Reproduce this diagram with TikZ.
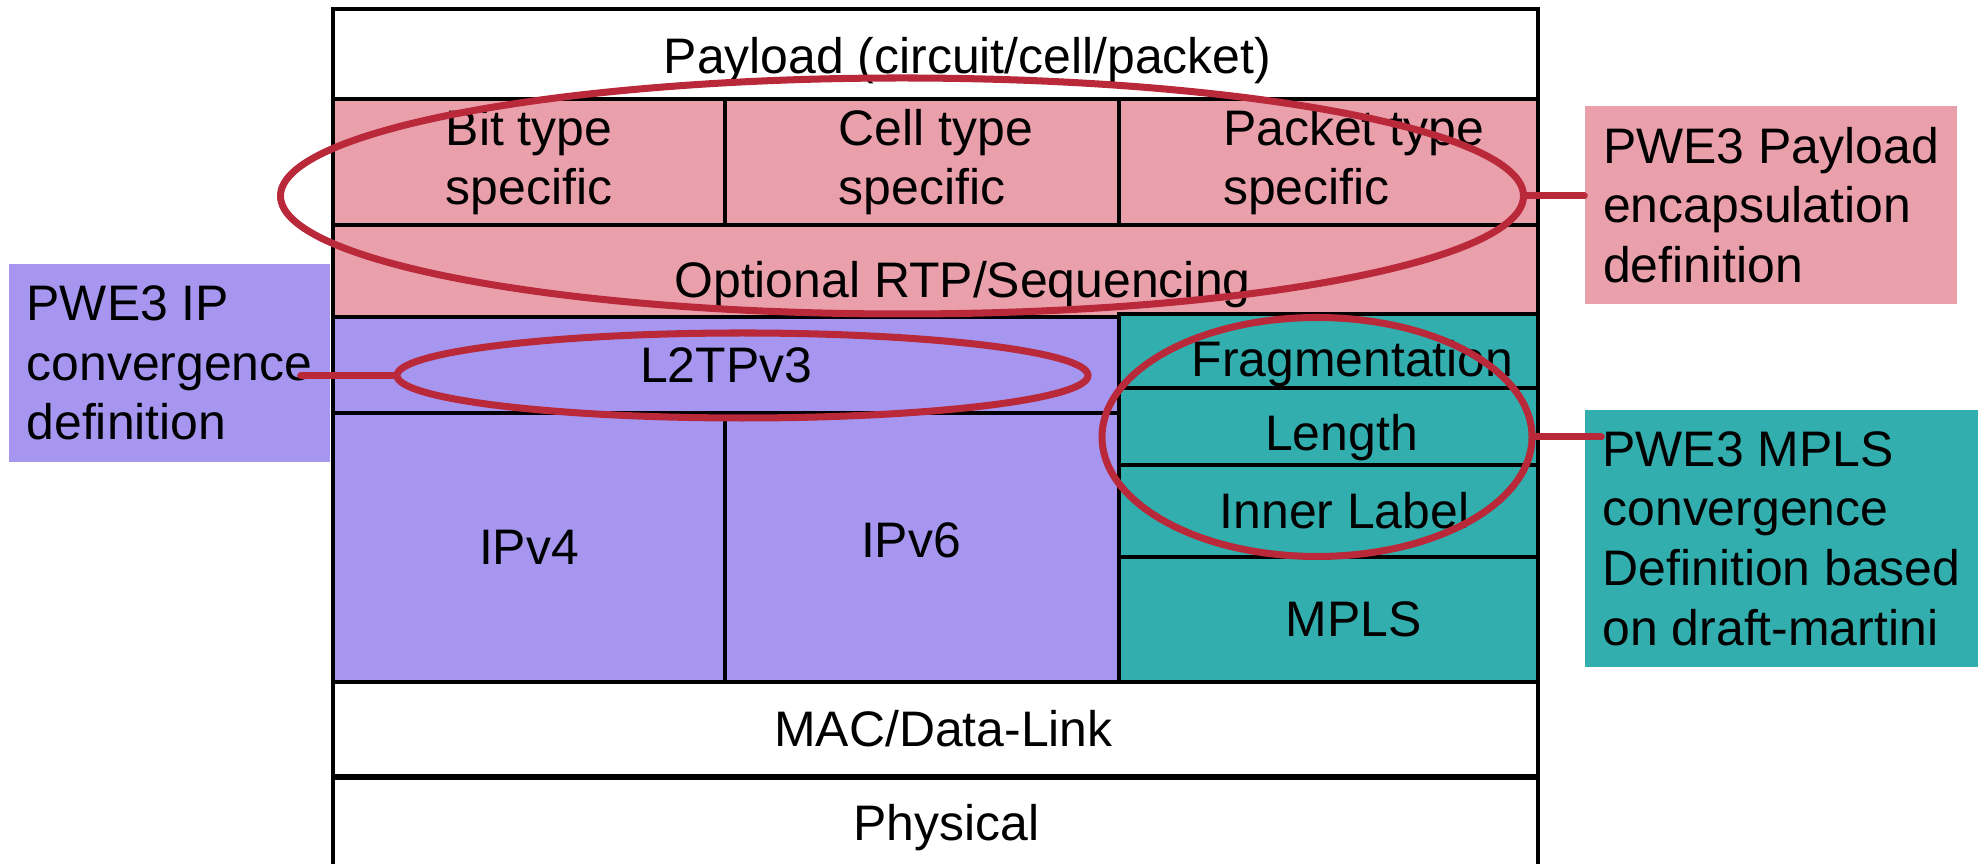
\documentclass[tikz,border=0pt]{standalone}
\usepackage{fontspec}
\setmainfont{Liberation Sans}
\usepackage{xcolor}
\usetikzlibrary{shapes.geometric, positioning, calc}
\definecolor{pink}  {RGB}{233,160,171}
\definecolor{lilac} {RGB}{166,150,240}
\definecolor{teal}  {RGB}{ 49,174,173}
\definecolor{ringr} {RGB}{185, 41, 58}
\newcommand{\stackfont}{\fontsize{14.2pt}{17pt}\selectfont}
\tikzset{
  % Layer cell of the stack
  LB/.style={rectangle,draw=black,fill=#1,line width=1.2pt,
             align=center,font=\stackfont,inner sep=2pt},
  LB/.default=white,
  % push a one-line text to the right inside its cell
  Tx/.style={execute at begin node={\hspace*{#1}}},
  % Side note box
  NB/.style={rectangle,fill=#1,align=left,font=\stackfont,inner sep=2pt},
  % Red ring round a group of layers
  Ring/.style={ellipse,draw=ringr,line width=2pt,inner sep=0pt},
  % Ring to note connector
  Lnk/.style={draw=ringr,line width=2pt,line cap=round},
}
\begin{document}
\begin{tikzpicture}
  \useasboundingbox (0,0) rectangle (19.84,8.64);
  % stack
  \node[LB,minimum width=12.05cm,minimum height=0.90cm,Tx=0.64cm,
        text height=14pt]
        at (9.355,8.10) (pay) {Payload (circuit/cell/packet)};
  \node[LB=pink,minimum width=3.92cm,minimum height=1.26cm,align=left]
        at (5.29,7.02) (bit) {Bit type\\specific};
  \node[LB=pink,minimum width=3.94cm,minimum height=1.26cm,align=left]
        at (9.22,7.02) (cell)
        {\hspace*{0.28cm}Cell type\\\hspace*{0.28cm}specific};
  \node[LB=pink,minimum width=4.19cm,minimum height=1.26cm,align=left]
        at (13.285,7.02) (pkt)
        {\hspace*{0.5cm}Packet type\\\hspace*{0.5cm}specific};
  \node[LB=pink,minimum width=12.05cm,minimum height=0.92cm,Tx=0.54cm,
        text height=17.8pt]
        at (9.355,5.93) (rtp) {Optional RTP/Sequencing};
  \node[LB=lilac,minimum width=7.86cm,minimum height=0.96cm]
        at (7.26,4.99) (l2tp) {L2TPv3};
  \node[LB=lilac,minimum width=3.92cm,minimum height=2.69cm]
        at (5.29,3.165) (ipv4) {IPv4};
  \node[LB=lilac,minimum width=3.94cm,minimum height=2.69cm,
        text height=6pt]
        at (9.22,3.165) (ipv6) {IPv6\hspace*{0.22cm}};
  \node[LB=teal,minimum width=4.19cm,minimum height=0.74cm,Tx=0.48cm,
        text height=16pt]
        at (13.285,5.10) (frag) {Fragmentation};
  \node[LB=teal,minimum width=4.19cm,minimum height=0.74cm,Tx=0.26cm,
        text height=15.6pt]
        at (13.285,4.36) (len) {Length};
  \node[LB=teal,minimum width=4.19cm,minimum height=0.92cm,Tx=0.32cm]
        at (13.285,3.53) (inner) {Inner Label};
  \node[LB=teal,minimum width=4.19cm,minimum height=1.25cm,Tx=0.5cm]
        at (13.285,2.445) (mpls) {MPLS};
  \node[LB,minimum width=12.05cm,minimum height=0.94cm,Tx=0.16cm]
        at (9.355,1.35) (mac) {MAC/Data-Link};
  \node[LB,minimum width=12.05cm,minimum height=1.00cm,Tx=0.22cm]
        at (9.355,0.36) (phys) {Physical};
  % notes
  \node[NB=lilac,minimum width=3.21cm,minimum height=1.98cm]
        at (1.695,5.01) (ipnote) {PWE3 IP\\convergence\\definition};
  \node[NB=pink,minimum width=3.72cm,minimum height=1.98cm]
        at (17.71,6.59) (paynote) {PWE3 Payload\\encapsulation\\definition};
  \node[NB=teal,minimum width=3.93cm,minimum height=2.57cm]
        at (17.815,3.255) (mplsnote)
        {PWE3 MPLS\\convergence\\Definition based\\on draft-martini};
  % rings
  \node[Ring,minimum width=12.43cm,minimum height=2.36cm]
        at (9.02,6.68) (ePay) {};
  \node[Ring,minimum width=6.91cm,minimum height=0.85cm]
        at (7.425,4.885) (eL2) {};
  \node[Ring,minimum width=4.30cm,minimum height=2.39cm]
        at (13.17,4.27) (eMpls) {};
  \draw[Lnk] (ePay.east) -- (ePay.east -| paynote.west);
  \draw[Lnk] (eL2.west) -- ([xshift=-0.3cm]eL2.west -| ipnote.east);
  \draw[Lnk] (eMpls.east) -- ([xshift=0.17cm]eMpls.east -| mplsnote.west);
\end{tikzpicture}
\end{document}
